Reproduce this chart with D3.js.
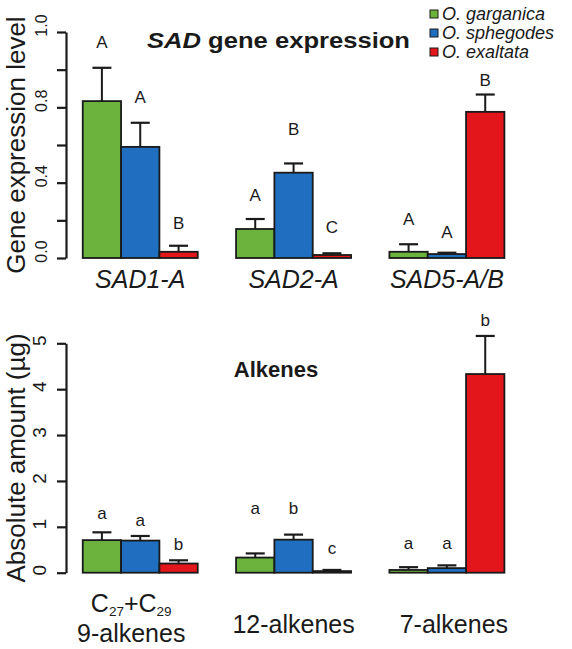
<!DOCTYPE html>
<html><head><meta charset="utf-8">
<script src="https://cdn.jsdelivr.net/npm/d3@7"></script>
<style>
html,body{margin:0;padding:0;background:#fff;}
text{font-family:"Liberation Sans",Arial,Helvetica,sans-serif;fill:#1a1a1a;}
</style></head>
<body><svg id="chart" width="572" height="649"></svg>
<script>
// ---------- data ----------
const species = ["O. garganica", "O. sphegodes", "O. exaltata"];
const speciesColors = ["#6cb33e", "#1f6ebf", "#e2161b"];

// Top panel: SAD gene expression
const geneCategories = ["SAD1-A", "SAD2-A", "SAD5-A/B"];
const geneMean = [[0.833, 0.59, 0.033], [0.154, 0.453, 0.016], [0.033, 0.021, 0.776]];
const geneErr  = [[0.177, 0.128, 0.032], [0.053, 0.049, 0.009], [0.040, 0.007, 0.092]];
const geneLetters = [["A", "A", "B"], ["A", "B", "C"], ["A", "A", "B"]];
const geneLetterAt = [[1.117, 0.824, 0.155], [0.304, 0.654, 0.134], [0.173, 0.104, 0.914]];
const geneTicks = [0, 0.2, 0.4, 0.6, 0.8, 1.0, 1.2];
const geneTickLabels = ["0.0", "", "0.4", "", "0.8", "", "1.0"];

// Bottom panel: alkenes
const alkCategories = [["C", "27", "+C", "29", "9-alkenes"], ["12-alkenes"], ["7-alkenes"]];
const alkMean = [[0.71, 0.70, 0.20], [0.33, 0.72, 0.035], [0.06, 0.10, 4.33]];
const alkErr  = [[0.17, 0.10, 0.07], [0.09, 0.11, 0.025], [0.06, 0.06, 0.83]];
const alkLetters = [["a", "a", "b"], ["a", "b", "c"], ["a", "a", "b"]];
const alkLetterAt = [[1.161, 1.015, 0.495], [1.285, 1.272, 0.399], [0.523, 0.523, 5.37]];
const alkTicks = [0, 1, 2, 3, 4, 5];
const alkTickLabels = ["0", "1", "2", "3", "4", "5"];

// ---------- layout ----------
const svg = d3.select("#chart");
const axisX = 66;
// bar-unit scale: each group = 3 bars + 1 bar-width gap before it
const x = d3.scaleLinear().domain([0, 12]).range([44.4, 504.4]);
const barLeft = (g, b) => x(1 + g * 4 + b);
const barW = x(1) - x(0);
const alkLabelShift = [-9, 0, 7];

function panel(opts) {
  const y = d3.scaleLinear().domain(opts.domain).range(opts.range);
  const root = svg.append("g");

  // axis
  const ax = d3.axisLeft(y).tickValues(opts.ticks)
    .tickFormat((d, i) => opts.tickLabels[i]).tickSize(9).tickSizeOuter(0).tickPadding(0);
  const ag = root.append("g").attr("transform", `translate(${axisX},0)`).call(ax);
  ag.select(".domain").attr("stroke", "#1a1a1a").attr("stroke-width", 2.2);
  ag.selectAll(".tick line").attr("stroke", "#1a1a1a").attr("stroke-width", 2.2);
  ag.selectAll(".tick text")
    .attr("x", null).attr("dy", null)
    .attr("transform", `translate(${opts.tickLabelX},${opts.tickLabelDy}) rotate(-90)`)
    .attr("text-anchor", "middle")
    .style("font-size", opts.tickFont + "px")
    .style("font-family", '"Liberation Sans",Arial,sans-serif')
    .attr("fill", "#1a1a1a");

  // y-axis title
  root.append("text")
    .attr("transform", `translate(25,${(opts.range[0] + opts.range[1]) / 2}) rotate(-90)`)
    .attr("text-anchor", "middle")
    .style("font-size", "26px")
    .text(opts.yTitle);

  opts.mean.forEach((row, g) => {
    row.forEach((v, b) => {
      const x0 = barLeft(g, b);
      const xc = x0 + barW / 2;
      const hi = v + opts.err[g][b];
      // error bar
      root.append("line").attr("x1", xc).attr("x2", xc)
        .attr("y1", y(v)).attr("y2", y(hi))
        .attr("stroke", "#1a1a1a").attr("stroke-width", 2);
      root.append("line").attr("x1", xc - 9.5).attr("x2", xc + 9.5)
        .attr("y1", y(hi)).attr("y2", y(hi))
        .attr("stroke", "#1a1a1a").attr("stroke-width", 2.2);
      // bar
      root.append("rect").attr("x", x0).attr("width", barW)
        .attr("y", y(v)).attr("height", y(0) - y(v))
        .attr("fill", speciesColors[b])
        .attr("stroke", "#1a1a1a").attr("stroke-width", 1.8);
      // letter
      root.append("text").attr("x", xc).attr("y", y(opts.letterAt[g][b]))
        .attr("text-anchor", "middle").style("font-size", "17px")
        .text(opts.letters[g][b]);
    });
  });
  return {root, y};
}

// Top panel
const genePanel = panel({
  domain: [0, 1.2], range: [258, 32],
  ticks: geneTicks, tickLabels: geneTickLabels, tickFont: 16, tickLabelX: -19, tickLabelDy: -7,
  yTitle: "Gene expression level",
  mean: geneMean, err: geneErr, letters: geneLetters, letterAt: geneLetterAt
});
geneCategories.forEach((c, g) => {
  const xc = (barLeft(g, 0) + barLeft(g, 3)) / 2;
  genePanel.root.append("text").attr("x", xc).attr("y", 288)
    .attr("text-anchor", "middle").style("font-size", "25px").style("font-style", "italic")
    .text(c);
});
const t1 = genePanel.root.append("text").attr("x", 147).attr("y", 48)
  .style("font-size", "22.5px").style("font-weight", "bold")
  .attr("textLength", 263).attr("lengthAdjust", "spacingAndGlyphs");
t1.append("tspan").style("font-style", "italic").text("SAD");
t1.append("tspan").text(" gene expression");

// Legend
species.forEach((s, i) => {
  const yy = 14 + i * 19;
  svg.append("rect").attr("x", 430).attr("y", yy - 4).attr("width", 8).attr("height", 8)
    .attr("fill", speciesColors[i]).attr("stroke", "#1a1a1a").attr("stroke-width", 1);
  svg.append("text").attr("x", 442).attr("y", yy + 6)
    .style("font-size", "18px").style("font-style", "italic").text(s);
});

// Bottom panel
const alkPanel = panel({
  domain: [0, 5], range: [572.7, 343.3],
  ticks: alkTicks, tickLabels: alkTickLabels, tickFont: 19, tickLabelX: -20, tickLabelDy: -3,
  yTitle: "Absolute amount (\u00b5g)",
  mean: alkMean, err: alkErr, letters: alkLetters, letterAt: alkLetterAt
});
alkPanel.root.append("text").attr("x", 276).attr("y", 377)
  .attr("text-anchor", "middle").style("font-size", "22px").style("font-weight", "bold")
  .text("Alkenes");

alkCategories.forEach((c, g) => {
  const xc = (barLeft(g, 0) + barLeft(g, 3)) / 2 + alkLabelShift[g];
  if (c.length > 1) {
    const t = alkPanel.root.append("text").attr("x", xc).attr("y", 612)
      .attr("text-anchor", "middle").style("font-size", "25px");
    t.append("tspan").text(c[0]);
    t.append("tspan").attr("dy", 4).style("font-size", "13.5px").text(c[1]);
    t.append("tspan").attr("dy", -4).text(c[2]);
    t.append("tspan").attr("dy", 4).style("font-size", "13.5px").text(c[3]);
    alkPanel.root.append("text").attr("x", xc).attr("y", 642)
      .attr("text-anchor", "middle").style("font-size", "25px").text(c[4]);
  } else {
    alkPanel.root.append("text").attr("x", xc).attr("y", 633)
      .attr("text-anchor", "middle").style("font-size", "25px").text(c[0]);
  }
});
</script></body></html>
